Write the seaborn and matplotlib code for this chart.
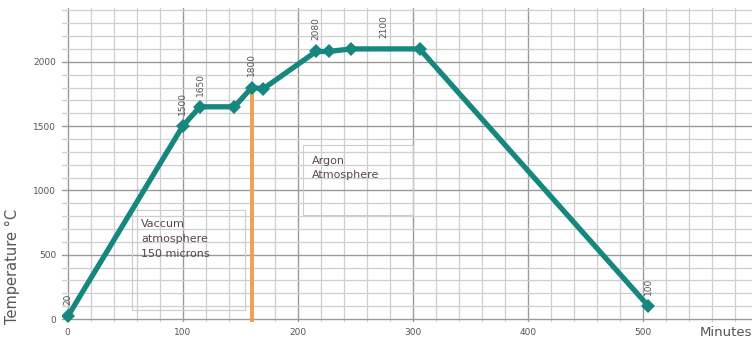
import matplotlib
matplotlib.use("Agg")
import matplotlib.pyplot as plt
from matplotlib.patches import Rectangle
import seaborn as sns
import pandas as pd
import numpy as np

minutes = [0, 100, 115, 145, 160, 170, 216, 227, 246, 306, 505]
temps = [20, 1500, 1650, 1650, 1800, 1790, 2080, 2080, 2100, 2100, 100]

label_texts = ["20", "1500", "1650", "1800", "2080", "2100", "100"]
label_x = [0, 100, 115, 160, 216, 275, 505]
label_y = [20, 1500, 1650, 1800, 2080, 2100, 100]

xticks = [0, 100, 200, 300, 400, 500]
yticks = [0, 500, 1000, 1500, 2000]

orange_x = 160
orange_top = 1780

df = pd.DataFrame({"Minutes": minutes, "Temperature": temps})

sns.set_style("white")
plt.rcParams['font.family'] = ['DejaVu Sans']

fig = plt.figure(figsize=(7.52, 3.41), dpi=100)
ax = fig.add_axes([0.0824, 0.0557, 0.9176, 0.9208])

ax.set_xlim(-5, 595)
ax.set_ylim(-23, 2418)

# grid
ax.set_xticks(xticks)
ax.set_yticks(yticks)
ax.set_xticks(np.arange(0, 600, 20), minor=True)
ax.set_yticks(np.arange(0, 2500, 100), minor=True)
ax.grid(which="major", color="#9a9a9a", linewidth=1.0)
ax.grid(which="minor", color="#cfcfcf", linewidth=0.9)
ax.set_axisbelow(True)
for s in ax.spines.values():
    s.set_visible(False)
ax.tick_params(which="both", length=0)
ax.tick_params(axis="both", labelsize=6.5, labelcolor="#555555", pad=4)

# orange vertical line
ax.plot([orange_x, orange_x], [-23, orange_top], color="#f0a050", linewidth=2.8, zorder=2)

sns.lineplot(data=df, x="Minutes", y="Temperature", ax=ax, color="#16877e",
             linewidth=3.8, marker="D", markersize=7, markeredgewidth=0,
             sort=False, zorder=3)

for t, x, y in zip(label_texts, label_x, label_y):
    ax.annotate(t, (x, y), xytext=(0, 8), textcoords="offset points",
                rotation=90, ha="center", va="bottom", fontsize=6.5, color="#555555")

# text boxes
ax.add_patch(Rectangle((56, 70), 98, 778, facecolor="none", edgecolor="#cccccc",
                       linewidth=0.8, zorder=1))
ax.text(64, 622, "Vaccum\natmosphere\n150 microns", fontsize=8, color="#5a4848",
        linespacing=1.6, va="center", ha="left")
ax.add_patch(Rectangle((204.5, 809), 95.5, 545, facecolor="none", edgecolor="#cccccc",
                       linewidth=0.8, zorder=1))
ax.text(212, 1175, "Argon\nAtmosphere", fontsize=8, color="#5a4848",
        linespacing=1.6, va="center", ha="left")

ax.set_xlabel("")
ax.set_ylabel("")
fig.text(0.016, 0.22, "Temperature °C", rotation=90, fontsize=10.5,
         color="#555555", ha="center", va="center")
fig.text(1.0, 0.025, "Minutes", fontsize=9.5, color="#555555", ha="right", va="center")

fig.savefig("out.png", dpi=100)
